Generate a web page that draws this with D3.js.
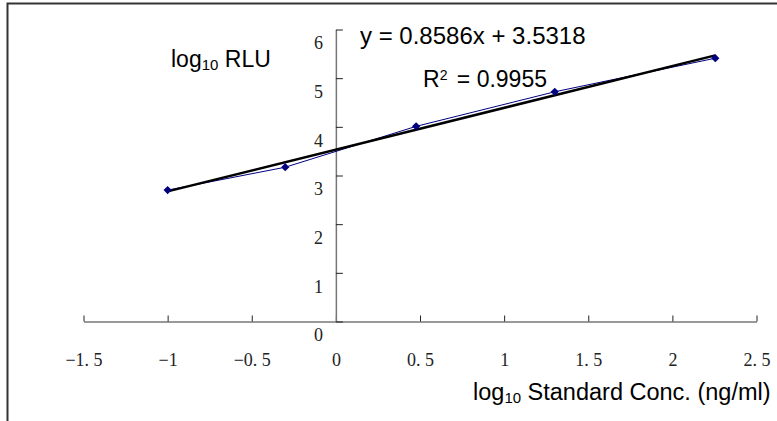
<!DOCTYPE html>
<html>
<head>
<meta charset="utf-8">
<script src="https://cdn.jsdelivr.net/npm/d3@7"></script>
<style>
  body { margin: 0; background: #fff; }
  svg { display: block; }
  .lbl { font-family: "Liberation Sans", Arial, sans-serif; font-size: 23px; fill: #000; }
  .tick text { font-family: "Liberation Serif", "DejaVu Serif", serif; font-size: 18px; fill: #222; }
</style>
</head>
<body>
<svg width="777" height="421"></svg>
<script>
// log10 standard concentration vs log10 RLU
var logConc = [-1, -0.301, 0.477, 1.301, 2.255];
var logRLU = [2.70, 3.17, 4.01, 4.72, 5.41];

// linear fit shown on chart
var slope = 0.8586;
var intercept = 3.5318;
var rSquared = 0.9955;

var xTicks = [-1.5, -1, -0.5, 0, 0.5, 1, 1.5, 2, 2.5];
var xTickLabels = ["\u22121. 5", "\u22121", "\u22120. 5", "0", "0. 5", "1", "1. 5", "2", "2. 5"];
var yTicks = [0, 1, 2, 3, 4, 5, 6];

var svg = d3.select("svg");

// outer frame (cut off at right and bottom)
svg.append("rect")
    .attr("x", 7.5)
    .attr("y", 3.5)
    .attr("width", 820)
    .attr("height", 480)
    .attr("fill", "none")
    .attr("stroke", "#333")
    .attr("stroke-width", 2);

var xScale = d3.scaleLinear()
    .domain([-1.5, 2.5])
    .range([83.5, 756.5]);

var yScale = d3.scaleLinear()
    .domain([0, 6])
    .range([321.5, 29.5]);

var xAxis = d3.axisBottom(xScale)
    .tickValues(xTicks)
    .tickFormat(function(d, i) { return xTickLabels[i]; })
    .tickSizeInner(-6)
    .tickSizeOuter(0)
    .tickPadding(32);

var yAxis = d3.axisLeft(yScale)
    .tickValues(yTicks)
    .tickFormat(d3.format("d"))
    .tickSizeInner(-7)
    .tickSizeOuter(0)
    .tickPadding(13);

var gx = svg.append("g")
    .attr("transform", "translate(0," + yScale(0) + ")")
    .call(xAxis);

var gy = svg.append("g")
    .attr("transform", "translate(" + xScale(0) + ",0)")
    .call(yAxis);

gx.select(".domain").attr("stroke", "#777").attr("stroke-width", 1.5);
gy.select(".domain").attr("stroke", "#777").attr("stroke-width", 1.5);
gx.selectAll(".tick line").attr("stroke", "#222");
gy.selectAll(".tick line").attr("stroke", "#222");
// y labels sit a little below their ticks, as in the original
gy.selectAll(".tick text").attr("dy", "1.08em");

// data line
var line = d3.line()
    .x(function(d, i) { return xScale(logConc[i]); })
    .y(function(d) { return yScale(d); });

svg.append("path")
    .datum(logRLU)
    .attr("d", line)
    .attr("fill", "none")
    .attr("stroke", "#000080")
    .attr("stroke-width", 1);

// trendline from fit
var xMin = d3.min(logConc), xMax = d3.max(logConc);
svg.append("line")
    .attr("x1", xScale(xMin))
    .attr("y1", yScale(slope * xMin + intercept))
    .attr("x2", xScale(xMax))
    .attr("y2", yScale(slope * xMax + intercept))
    .attr("stroke", "#000")
    .attr("stroke-width", 2.5);

// diamond markers
svg.selectAll(".pt")
    .data(logRLU)
    .enter().append("path")
    .attr("class", "pt")
    .attr("d", d3.symbol().type(d3.symbolSquare).size(34))
    .attr("transform", function(d, i) {
        return "translate(" + xScale(logConc[i]) + "," + yScale(d) + ") rotate(45)";
    })
    .attr("fill", "#000080");

// labels
var yTitle = svg.append("text").attr("class", "lbl").attr("x", 171).attr("y", 67);
yTitle.append("tspan").text("log");
yTitle.append("tspan").attr("font-size", "15px").attr("dy", 3).text("10");
yTitle.append("tspan").attr("dy", -3).text(" RLU");

var xTitle = svg.append("text").attr("class", "lbl").attr("x", 473).attr("y", 400)
    .style("font-size", "23.5px");
xTitle.append("tspan").text("log");
xTitle.append("tspan").attr("font-size", "15px").attr("dy", 3).text("10");
xTitle.append("tspan").attr("dy", -3).text(" Standard Conc. (ng/ml)");

svg.append("text")
    .attr("class", "lbl")
    .attr("x", 360)
    .attr("y", 44)
    .style("font-size", "24px")
    .text("y = " + slope + "x + " + intercept);

var r2 = svg.append("text").attr("class", "lbl").attr("x", 423).attr("y", 87);
r2.append("tspan").text("R");
r2.append("tspan").attr("font-size", "14px").attr("dx", 0).attr("dy", -7).text("2");
r2.append("tspan").attr("dx", 3).attr("dy", 7).text(" = " + rSquared);
</script>
</body>
</html>
